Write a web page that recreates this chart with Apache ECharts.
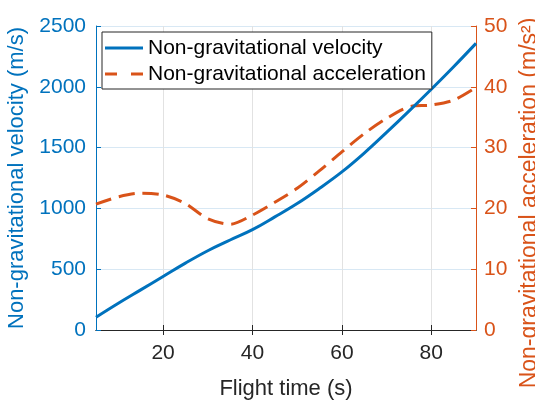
<!DOCTYPE html>
<html><head><meta charset="utf-8">
<script src="https://cdn.jsdelivr.net/npm/echarts@6/dist/echarts.min.js"></script>
<style>html,body{margin:0;padding:0;background:#fff}#c{width:535px;height:403px}</style>
</head><body><div id="c"></div>
<script>
const time = [5,10,15,20,25,30,35,40,45,50,55,60,65,70,75,80,85,90];
const velocity = [105,220,330,440,550,652,740,825,930,1040,1165,1300,1455,1625,1800,1980,2165,2357];
const acceleration = [20.7,21.9,22.5,22.2,20.8,18.3,17.4,18.9,21.0,23.3,26.2,29.3,32.3,34.8,36.7,37.0,37.8,39.9];
const xTicks = [20,40,60,80];
const velTicks = [0,500,1000,1500,2000,2500];
const accTicks = [0,10,20,30,40,50];

const blue = '#0072BD', orange = '#D95319', dark = '#262626';
const font = 'Liberation Sans, Arial, Helvetica, sans-serif';
const chart = echarts.init(document.getElementById('c'), null, {renderer:'canvas'});
chart.setOption({
  animation:false,
  textStyle:{fontFamily:font},
  grid:{left:96, right:59, top:26, bottom:73, containLabel:false, outerBoundsMode:'none'},
  legend:{
    left:102, top:32, orient:'vertical', itemWidth:38, itemHeight:14, itemGap:2,
    padding:[4,6,3,3], backgroundColor:'#fff', borderColor:dark, borderWidth:1, borderRadius:0,
    textStyle:{fontSize:21, color:'#000', fontFamily:font, lineHeight:24},
    data:[{name:'Non-gravitational velocity', icon:'path://M0,6L38,6L38,9L0,9Z'},
          {name:'Non-gravitational acceleration', icon:'path://M0,6L12,6L12,9L0,9ZM26,6L38,6L38,9L26,9Z'}]
  },
  xAxis:[{
    type:'value', min:time[0], max:time[time.length-1], position:'bottom',
    name:'Flight time (s)', nameLocation:'middle', nameGap:48,
    nameTextStyle:{fontSize:22, color:dark, fontFamily:font},
    axisLine:{lineStyle:{color:dark, width:1}},
    axisTick:{inside:true, length:5, lineStyle:{color:dark}, customValues:xTicks},
    axisLabel:{fontSize:21, color:dark, margin:13, customValues:xTicks, fontFamily:font, formatter:v=>String(v)},
    splitLine:{show:true, lineStyle:{color:'#e2e2e2', width:1}}
  },{
    type:'value', min:time[0], max:time[time.length-1], position:'top',
    axisLine:{show:true, lineStyle:{color:dark, width:1}},
    axisTick:{inside:true, length:5, lineStyle:{color:dark}, customValues:xTicks},
    axisLabel:{show:false}, splitLine:{show:false}
  }],
  yAxis:[{
    type:'value', min:velTicks[0], max:velTicks[velTicks.length-1], interval:500, position:'left',
    name:'Non-gravitational velocity (m/s)', nameLocation:'middle', nameGap:64, nameRotate:90,
    nameTextStyle:{fontSize:22, color:blue, fontFamily:font},
    axisLine:{show:true, lineStyle:{color:blue, width:1}},
    axisTick:{show:true, inside:true, length:5, lineStyle:{color:blue}},
    axisLabel:{fontSize:21, color:blue, margin:10, fontFamily:font, formatter:v=>String(v)},
    splitLine:{show:true, lineStyle:{color:'#d8e8f4', width:1}}
  },{
    type:'value', min:accTicks[0], max:accTicks[accTicks.length-1], interval:10, position:'right',
    name:'Non-gravitational acceleration (m/s²)', nameLocation:'middle', nameGap:34, nameRotate:90,
    nameTextStyle:{fontSize:23, color:orange, fontFamily:font, padding:[0,50,0,0]},
    axisLine:{show:true, lineStyle:{color:orange, width:1}},
    axisTick:{show:true, inside:true, length:5, lineStyle:{color:orange}},
    axisLabel:{fontSize:21, color:orange, margin:8, fontFamily:font, formatter:v=>String(v)},
    splitLine:{show:false}
  }],
  series:[{
    name:'Non-gravitational velocity', type:'line', xAxisIndex:0, yAxisIndex:0,
    data:time.map((t,i)=>[t,velocity[i]]), smooth:0.4, showSymbol:false,
    lineStyle:{color:blue, width:3}, itemStyle:{color:blue}, z:3
  },{
    name:'Non-gravitational acceleration', type:'line', xAxisIndex:0, yAxisIndex:1,
    data:time.map((t,i)=>[t,acceleration[i]]), smooth:0.3, showSymbol:false,
    lineStyle:{color:orange, width:3, type:[16,8]}, itemStyle:{color:orange}, z:2
  }]
});
</script></body></html>
